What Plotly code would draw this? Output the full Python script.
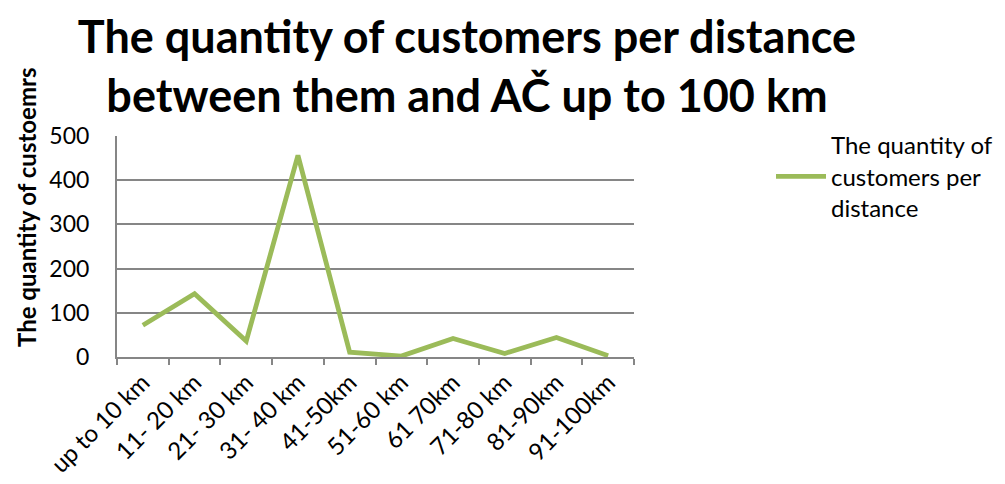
import plotly.graph_objects as go

# Distance bands and number of customers in each band
distance_bands = ["up to 10 km", "11- 20 km", "21- 30 km", "31- 40 km", "41-50km",
                  "51-60 km", "61 70km", "71-80 km", "81-90km", "91-100km"]
customers = [72, 143, 36, 456, 11, 2, 42, 8, 44, 3]
y_ticks = [0, 100, 200, 300, 400, 500]

series_name = "The quantity of<br>customers per<br>distance"
title_text = "The quantity of customers per distance<br>between them and AČ up to 100 km"
y_title = "The quantity of custoemrs"

FONT = "Lato"
GREEN = "#9BBB59"
GRID = "#868686"

# plot area in pixels: x 117..634, y 136..357
PL, PR, PT, PB = 117, 634, 136, 357
PW, PH = PR - PL, PB - PT

fig = go.Figure()
fig.add_trace(go.Scatter(
    x=distance_bands, y=customers, mode="lines", name=series_name,
    line=dict(color=GREEN, width=4.8), showlegend=True,
))

fig.update_layout(
    width=1005, height=484,
    margin=dict(l=PL, r=1005 - PR, t=PT, b=484 - PB, autoexpand=False),
    paper_bgcolor="white", plot_bgcolor="white",
    font=dict(family=FONT, color="#000000"),
    title=dict(
        text=title_text, x=467 / 1005, xanchor="center", xref="container",
        y=1 - 53 / 484, yanchor="middle", yref="container",
        font=dict(family=FONT, size=45, color="#000000", weight="bold"),
    ),
    showlegend=True,
    legend=dict(
        x=(771 - PL) / PW, xref="paper", y=(PB - 123) / PH, yref="paper",
        xanchor="left", yanchor="top",
        font=dict(family=FONT, size=24, color="#000000"),
        bgcolor="rgba(0,0,0,0)", itemwidth=50,
    ),
    annotations=[dict(
        text=y_title, textangle=-90, showarrow=False,
        xref="paper", yref="paper", x=(26 - PL) / PW, y=(PB - 208) / PH,
        xanchor="center", yanchor="middle",
        font=dict(family=FONT, size=24, color="#000000", weight="bold"),
    )],
)

fig.update_xaxes(
    type="category", tickson="boundaries", ticks="outside", ticklen=6,
    tickcolor=GRID, tickwidth=2, showline=True, linecolor=GRID, linewidth=2,
    showgrid=False, tickangle=-45, automargin=False,
    tickfont=dict(family=FONT, size=24, color="#000000"),
    range=[-0.5, len(distance_bands) - 0.5],
)
# transparent outside ticks only provide the gap between labels and the axis
fig.update_yaxes(
    range=[0, 500], tickvals=y_ticks, showgrid=True, gridcolor=GRID, gridwidth=2,
    showline=True, linecolor=GRID, linewidth=2, zeroline=False,
    ticks="outside", ticklen=21, tickcolor="rgba(0,0,0,0)",
    automargin=False,
    tickfont=dict(family=FONT, size=23, color="#000000"),
)

fig.write_html("out.html")
